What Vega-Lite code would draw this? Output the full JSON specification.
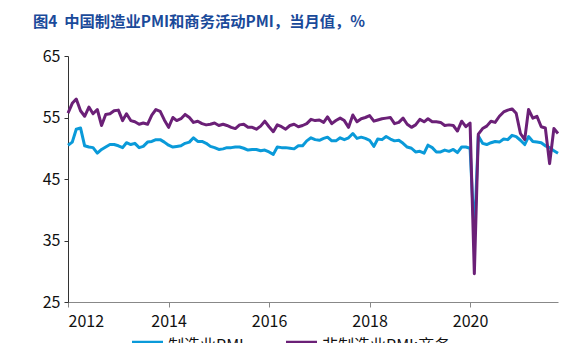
{
  "$schema": "https://vega.github.io/schema/vega-lite/v6.json",
  "autosize": "none",
  "width": 490,
  "height": 246,
  "padding": {"left": 68, "top": 56, "right": 8, "bottom": 41},
  "background": "white",
  "config": {
    "font": "Noto Sans CJK SC",
    "view": {"stroke": null}
  },
  "title": {
    "text": "图4\u00a0\u00a0中国制造业PMI和商务活动PMI，当月值，%",
    "anchor": "start",
    "frame": "group",
    "dx": -35,
    "offset": 18,
    "fontSize": 15.3,
    "fontWeight": "bold",
    "color": "#1a4a9a",
    "font": "Noto Sans CJK SC"
  },
  "data": {
    "values": [
      {"date": "2012-01-01", "m": 50.5, "n": 55.7},
      {"date": "2012-02-01", "m": 51.0, "n": 57.3},
      {"date": "2012-03-01", "m": 53.1, "n": 58.0},
      {"date": "2012-04-01", "m": 53.3, "n": 56.1},
      {"date": "2012-05-01", "m": 50.4, "n": 55.2},
      {"date": "2012-06-01", "m": 50.2, "n": 56.7},
      {"date": "2012-07-01", "m": 50.1, "n": 55.6},
      {"date": "2012-08-01", "m": 49.2, "n": 56.3},
      {"date": "2012-09-01", "m": 49.8, "n": 53.7},
      {"date": "2012-10-01", "m": 50.2, "n": 55.5},
      {"date": "2012-11-01", "m": 50.6, "n": 55.6},
      {"date": "2012-12-01", "m": 50.6, "n": 56.1},
      {"date": "2013-01-01", "m": 50.4, "n": 56.2},
      {"date": "2013-02-01", "m": 50.1, "n": 54.5},
      {"date": "2013-03-01", "m": 50.9, "n": 55.6},
      {"date": "2013-04-01", "m": 50.6, "n": 54.5},
      {"date": "2013-05-01", "m": 50.8, "n": 54.3},
      {"date": "2013-06-01", "m": 50.1, "n": 53.9},
      {"date": "2013-07-01", "m": 50.3, "n": 54.1},
      {"date": "2013-08-01", "m": 51.0, "n": 53.9},
      {"date": "2013-09-01", "m": 51.1, "n": 55.4},
      {"date": "2013-10-01", "m": 51.4, "n": 56.3},
      {"date": "2013-11-01", "m": 51.4, "n": 56.0},
      {"date": "2013-12-01", "m": 51.0, "n": 54.6},
      {"date": "2014-01-01", "m": 50.5, "n": 53.4},
      {"date": "2014-02-01", "m": 50.2, "n": 55.0},
      {"date": "2014-03-01", "m": 50.3, "n": 54.5},
      {"date": "2014-04-01", "m": 50.4, "n": 54.8},
      {"date": "2014-05-01", "m": 50.8, "n": 55.5},
      {"date": "2014-06-01", "m": 51.0, "n": 55.0},
      {"date": "2014-07-01", "m": 51.7, "n": 54.2},
      {"date": "2014-08-01", "m": 51.1, "n": 54.4},
      {"date": "2014-09-01", "m": 51.1, "n": 54.0},
      {"date": "2014-10-01", "m": 50.8, "n": 53.8},
      {"date": "2014-11-01", "m": 50.3, "n": 53.9},
      {"date": "2014-12-01", "m": 50.1, "n": 54.1},
      {"date": "2015-01-01", "m": 49.8, "n": 53.7},
      {"date": "2015-02-01", "m": 49.9, "n": 53.9},
      {"date": "2015-03-01", "m": 50.1, "n": 53.7},
      {"date": "2015-04-01", "m": 50.1, "n": 53.4},
      {"date": "2015-05-01", "m": 50.2, "n": 53.2},
      {"date": "2015-06-01", "m": 50.2, "n": 53.8},
      {"date": "2015-07-01", "m": 50.0, "n": 53.9},
      {"date": "2015-08-01", "m": 49.7, "n": 53.4},
      {"date": "2015-09-01", "m": 49.8, "n": 53.4},
      {"date": "2015-10-01", "m": 49.8, "n": 53.1},
      {"date": "2015-11-01", "m": 49.6, "n": 53.6},
      {"date": "2015-12-01", "m": 49.7, "n": 54.4},
      {"date": "2016-01-01", "m": 49.4, "n": 53.5},
      {"date": "2016-02-01", "m": 49.0, "n": 52.7},
      {"date": "2016-03-01", "m": 50.2, "n": 53.8},
      {"date": "2016-04-01", "m": 50.1, "n": 53.5},
      {"date": "2016-05-01", "m": 50.1, "n": 53.1},
      {"date": "2016-06-01", "m": 50.0, "n": 53.7},
      {"date": "2016-07-01", "m": 49.9, "n": 53.9},
      {"date": "2016-08-01", "m": 50.4, "n": 53.5},
      {"date": "2016-09-01", "m": 50.4, "n": 53.7},
      {"date": "2016-10-01", "m": 51.2, "n": 54.0},
      {"date": "2016-11-01", "m": 51.7, "n": 54.7},
      {"date": "2016-12-01", "m": 51.4, "n": 54.5},
      {"date": "2017-01-01", "m": 51.3, "n": 54.6},
      {"date": "2017-02-01", "m": 51.6, "n": 54.2},
      {"date": "2017-03-01", "m": 51.8, "n": 55.1},
      {"date": "2017-04-01", "m": 51.2, "n": 54.0},
      {"date": "2017-05-01", "m": 51.2, "n": 54.5},
      {"date": "2017-06-01", "m": 51.7, "n": 54.9},
      {"date": "2017-07-01", "m": 51.4, "n": 54.5},
      {"date": "2017-08-01", "m": 51.7, "n": 53.4},
      {"date": "2017-09-01", "m": 52.4, "n": 55.4},
      {"date": "2017-10-01", "m": 51.6, "n": 54.3},
      {"date": "2017-11-01", "m": 51.8, "n": 54.8},
      {"date": "2017-12-01", "m": 51.6, "n": 55.0},
      {"date": "2018-01-01", "m": 51.3, "n": 55.3},
      {"date": "2018-02-01", "m": 50.3, "n": 54.4},
      {"date": "2018-03-01", "m": 51.5, "n": 54.6},
      {"date": "2018-04-01", "m": 51.4, "n": 54.8},
      {"date": "2018-05-01", "m": 51.9, "n": 54.9},
      {"date": "2018-06-01", "m": 51.5, "n": 55.0},
      {"date": "2018-07-01", "m": 51.2, "n": 54.0},
      {"date": "2018-08-01", "m": 51.3, "n": 54.2},
      {"date": "2018-09-01", "m": 50.8, "n": 54.9},
      {"date": "2018-10-01", "m": 50.2, "n": 53.9},
      {"date": "2018-11-01", "m": 50.0, "n": 53.4},
      {"date": "2018-12-01", "m": 49.4, "n": 53.8},
      {"date": "2019-01-01", "m": 49.5, "n": 54.7},
      {"date": "2019-02-01", "m": 49.2, "n": 54.3},
      {"date": "2019-03-01", "m": 50.5, "n": 54.8},
      {"date": "2019-04-01", "m": 50.1, "n": 54.3},
      {"date": "2019-05-01", "m": 49.4, "n": 54.3},
      {"date": "2019-06-01", "m": 49.4, "n": 54.2},
      {"date": "2019-07-01", "m": 49.7, "n": 53.7},
      {"date": "2019-08-01", "m": 49.5, "n": 53.8},
      {"date": "2019-09-01", "m": 49.8, "n": 53.7},
      {"date": "2019-10-01", "m": 49.3, "n": 52.8},
      {"date": "2019-11-01", "m": 50.2, "n": 54.4},
      {"date": "2019-12-01", "m": 50.2, "n": 53.5},
      {"date": "2020-01-01", "m": 50.0, "n": 54.1},
      {"date": "2020-02-01", "m": 35.7, "n": 29.6},
      {"date": "2020-03-01", "m": 52.0, "n": 52.3},
      {"date": "2020-04-01", "m": 50.8, "n": 53.2},
      {"date": "2020-05-01", "m": 50.6, "n": 53.6},
      {"date": "2020-06-01", "m": 50.9, "n": 54.4},
      {"date": "2020-07-01", "m": 51.1, "n": 54.2},
      {"date": "2020-08-01", "m": 51.0, "n": 55.2},
      {"date": "2020-09-01", "m": 51.5, "n": 55.9},
      {"date": "2020-10-01", "m": 51.4, "n": 56.2},
      {"date": "2020-11-01", "m": 52.1, "n": 56.4},
      {"date": "2020-12-01", "m": 51.9, "n": 55.7},
      {"date": "2021-01-01", "m": 51.3, "n": 52.4},
      {"date": "2021-02-01", "m": 50.6, "n": 51.4},
      {"date": "2021-03-01", "m": 51.9, "n": 56.3},
      {"date": "2021-04-01", "m": 51.1, "n": 54.9},
      {"date": "2021-05-01", "m": 51.0, "n": 55.2},
      {"date": "2021-06-01", "m": 50.9, "n": 53.5},
      {"date": "2021-07-01", "m": 50.4, "n": 53.3},
      {"date": "2021-08-01", "m": 50.1, "n": 47.5},
      {"date": "2021-09-01", "m": 49.6, "n": 53.2},
      {"date": "2021-10-01", "m": 49.2, "n": 52.4}
    ]
  },
  "encoding": {
    "x": {
      "field": "date",
      "type": "temporal",
      "scale": {"domain": ["2012-01-01", "2021-10-01"]},
      "axis": {
        "title": null,
        "format": "%Y",
        "tickCount": {"interval": "year", "step": 2},
        "grid": false,
        "domainColor": "#888888",
        "tickColor": "#888888",
        "tickSize": 5,
        "labelFontSize": 16,
        "labelColor": "#111111",
        "labelPadding": 6,
        "labelFont": "Noto Sans CJK SC"
      }
    },
    "y": {
      "type": "quantitative",
      "scale": {"domain": [25, 65], "nice": false, "zero": false},
      "axis": {
        "title": null,
        "values": [25, 35, 45, 55, 65],
        "grid": false,
        "domainColor": "#333333",
        "tickColor": "#333333",
        "tickSize": 4,
        "labelFontSize": 16,
        "labelColor": "#111111",
        "labelPadding": 4,
        "labelFont": "Noto Sans CJK SC"
      }
    }
  },
  "layer": [
    {
      "mark": {"type": "line", "strokeWidth": 3, "strokeJoin": "round"},
      "encoding": {
        "y": {"field": "m", "type": "quantitative"},
        "color": {"datum": "制造业PMI"}
      }
    },
    {
      "mark": {"type": "line", "strokeWidth": 3, "strokeJoin": "round"},
      "encoding": {
        "y": {"field": "n", "type": "quantitative"},
        "color": {
          "datum": "非制造业PMI:商务活动",
          "scale": {
            "domain": ["制造业PMI", "非制造业PMI:商务活动"],
            "range": ["#0a9ad9", "#6b2077"]
          },
          "legend": {
            "title": null,
            "orient": "none",
            "legendX": 59,
            "legendY": 269,
            "direction": "horizontal",
            "symbolType": "stroke",
            "symbolStrokeWidth": 10,
            "symbolSize": 961,
            "labelOffset": 0,
            "labelFontSize": 16,
            "labelColor": "#111111",
            "labelFont": "Noto Sans CJK SC",
            "columnPadding": 22
          }
        }
      }
    }
  ]
}
